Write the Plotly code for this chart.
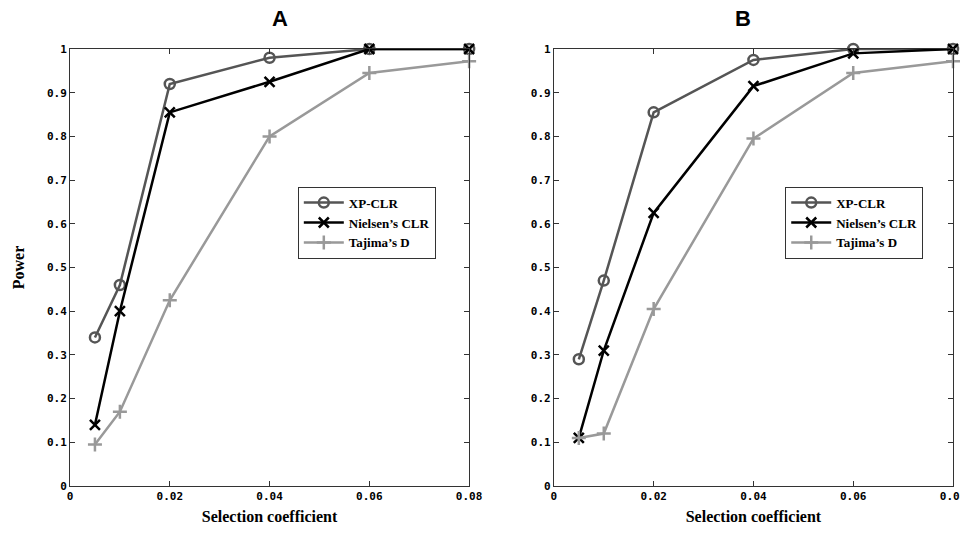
import plotly.graph_objects as go
from plotly.subplots import make_subplots

x = [0.005, 0.01, 0.02, 0.04, 0.06, 0.08]
xp_a = [0.34, 0.46, 0.92, 0.98, 1.0, 1.0]
niel_a = [0.14, 0.40, 0.855, 0.925, 1.0, 1.0]
taj_a = [0.095, 0.17, 0.425, 0.80, 0.945, 0.972]
xp_b = [0.29, 0.47, 0.855, 0.975, 1.0, 1.0]
niel_b = [0.11, 0.31, 0.625, 0.915, 0.99, 1.0]
taj_b = [0.11, 0.12, 0.405, 0.795, 0.945, 0.972]

y_ticks = [0, 0.1, 0.2, 0.3, 0.4, 0.5, 0.6, 0.7, 0.8, 0.9, 1]
y_labels = ["0", "0.1", "0.2", "0.3", "0.4", "0.5", "0.6", "0.7", "0.8", "0.9", "1"]
x_ticks = [0, 0.02, 0.04, 0.06, 0.08]
x_labels = ["0", "0.02", "0.04", "0.06", "0.08"]

names = ["XP-CLR", "Nielsen\u2019s CLR", "Tajima\u2019s D"]
colors = ["#555555", "#000000", "#999999"]
symbols = ["circle-open", "x-thin-open", "cross-thin-open"]

fig = make_subplots(rows=1, cols=2)

for col, series, leg in [(1, [xp_a, niel_a, taj_a], "legend"), (2, [xp_b, niel_b, taj_b], "legend2")]:
    for name, ys, c, s in zip(names, series, colors, symbols):
        fig.add_trace(go.Scatter(
            x=x, y=ys, name="<b>" + name + "</b>", mode="lines+markers",
            line=dict(color=c, width=2.5), cliponaxis=False,
            marker=dict(symbol=s, size=10, color=c, line=dict(color=c, width=2.5)),
            legend=leg,
        ), row=1, col=col)

axis_style = dict(
    showline=True, linecolor="#333", linewidth=1, mirror="ticks", automargin=False,
    ticks="inside", ticklen=5, tickcolor="#333", showgrid=False, zeroline=False,
    tickfont=dict(family="DejaVu Sans Mono", size=11, color="#000", weight="bold"),
)
doms = [[0.0, 0.452], [0.548, 1.0]]
for col in (1, 2):
    fig.update_xaxes(range=[0, 0.08], tickvals=x_ticks, ticktext=x_labels, domain=doms[col - 1],
                     title=dict(text="<b>Selection coefficient</b>", standoff=8,
                                font=dict(family="Liberation Serif", size=16, color="#000")),
                     row=1, col=col, **axis_style)
    fig.update_yaxes(range=[0, 1], tickvals=y_ticks, ticktext=y_labels, row=1, col=col, **axis_style)
fig.update_yaxes(title=dict(text="<b>Power</b>", standoff=18,
                            font=dict(family="Liberation Serif", size=16, color="#000")),
                 row=1, col=1)

for i, t in enumerate(["A", "B"]):
    fig.add_annotation(text="<b>" + t + "</b>", xref="paper", yref="paper",
                       x=sum(doms[i]) / 2, y=1.0, yanchor="middle", yshift=31, showarrow=False,
                       font=dict(family="Liberation Sans", size=22, color="#000"))

legend_style = dict(bgcolor="white", bordercolor="#333", borderwidth=1,
                    font=dict(family="Liberation Serif", size=13, color="#000"),
                    xanchor="left", yanchor="top", tracegroupgap=0, itemwidth=40)
fig.update_layout(
    width=968, height=535,
    plot_bgcolor="white", paper_bgcolor="white",
    margin=dict(l=62, r=23, t=41, b=57),
    legend=dict(x=0.258, y=0.685, **legend_style),
    legend2=dict(x=0.81, y=0.685, **legend_style),
    showlegend=True,
)

fig.write_html("out.html")
